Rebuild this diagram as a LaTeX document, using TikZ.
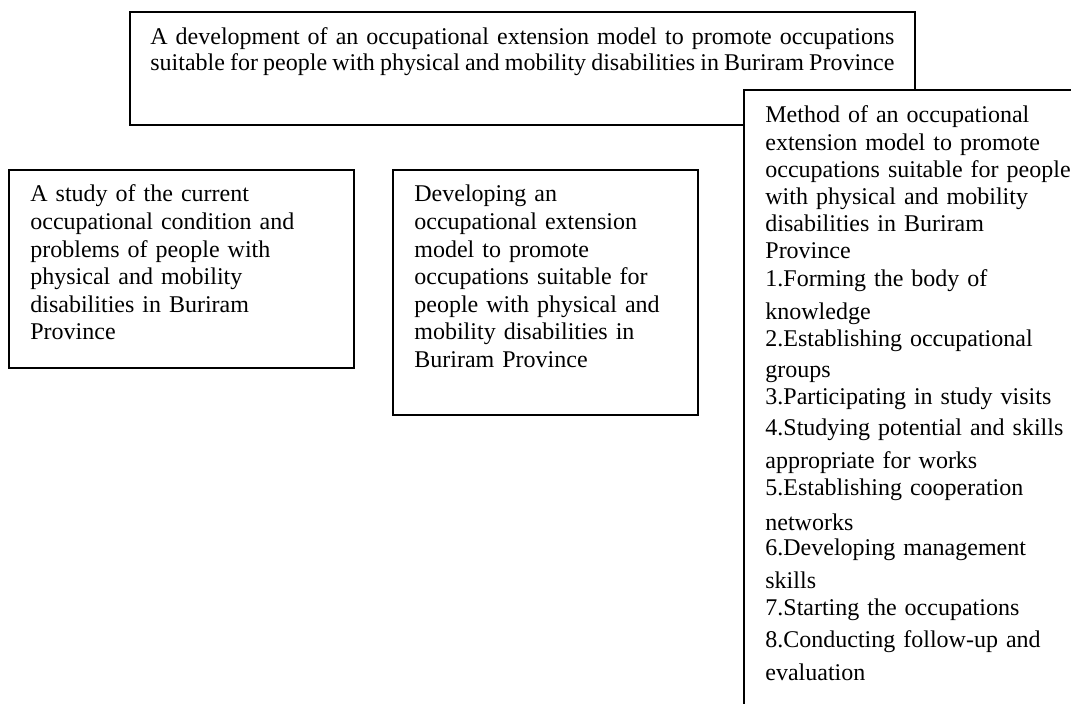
\documentclass[tikz,border=0pt]{standalone}
\usepackage{fontspec}
\setmainfont{Liberation Serif}
\hyphenpenalty=10000
\tikzset{
  frame/.style={draw=black, line width=.7pt, fill=white},
  boxtext/.style={anchor=base west, align=left, inner sep=0pt, text width=#1,
    font=\fontsize{12pt}{13.8pt}\selectfont},
}

\begin{document}
\begin{tikzpicture}[x=0.5pt, y=-0.5pt]
\useasboundingbox (0,0) rectangle (1071,704);

%%%%%%%%%%%%%%
% Title
%%%%%%%%%%%%%%
\draw[frame] (130,12) rectangle (915,125);
\node[boxtext=372pt, align=justify, font=\fontsize{12pt}{13pt}\selectfont] (title) at (150,45)
     {A development of an occupational extension model to promote occupations
      suitable for people with physical and mobility disabilities in Buriram Province};

%%%%%%%%%%%%%%
% Steps
%%%%%%%%%%%%%%
% current condition
\draw[frame] (9,170) rectangle (354,368);
\node[boxtext=160pt] (study) at (30,202)
     {A study of the current\\
      occupational condition and\\
      problems of people with\\
      physical and mobility\\
      disabilities in Buriram\\
      Province};

% model
\draw[frame] (393,170) rectangle (698,415);
\node[boxtext=150pt] (model) at (414,202)
     {Developing an\\
      occupational extension\\
      model to promote\\
      occupations suitable for\\
      people with physical and\\
      mobility disabilities in\\
      Buriram Province};

% method (runs on past the page edge)
\draw[frame] (744,90) rectangle (1120,740);
\node[boxtext=160pt, font=\fontsize{12pt}{13.6pt}\selectfont] (method) at (765,123)
     {Method of an occupational\\
      extension model to promote\\
      occupations suitable for people\\
      with physical and mobility\\
      disabilities in Buriram\\
      Province\\
      1.Forming the body of\\[2.9pt]
      knowledge\\
      2.Establishing occupational\\[1.9pt]
      groups\\
      3.Participating in study visits\\[1.9pt]
      4.Studying potential and skills\\[2.9pt]
      appropriate for works\\
      5.Establishing cooperation\\[3.9pt]
      networks\\[-1.1pt]
      6.Developing management\\[2.9pt]
      skills\\
      7.Starting the occupations\\[2.4pt]
      8.Conducting follow-up and\\[2.9pt]
      evaluation};

\end{tikzpicture}
\end{document}
